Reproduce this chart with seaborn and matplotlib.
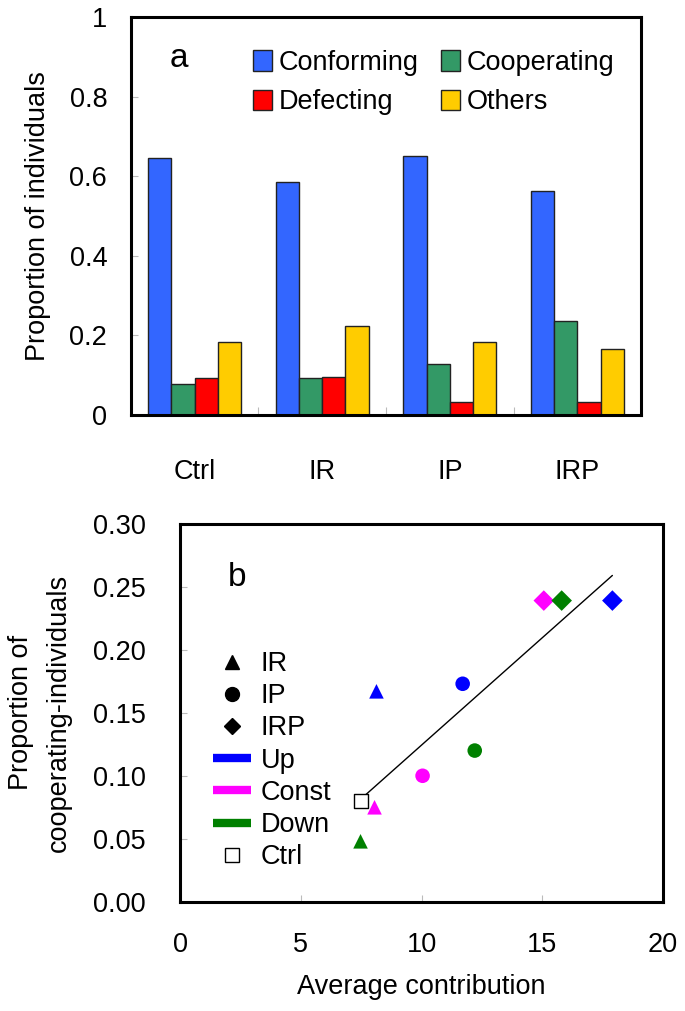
import numpy as np
import pandas as pd
import matplotlib
matplotlib.use("Agg")
import matplotlib.pyplot as plt
from matplotlib.lines import Line2D
from matplotlib.patches import Patch
import seaborn as sns

# ---------------- data ----------------
treatments = ["Ctrl", "IR", "IP", "IRP"]
types = ["Conforming", "Cooperating", "Defecting", "Others"]
conforming = [0.646, 0.585, 0.651, 0.563]
cooperating = [0.078, 0.093, 0.128, 0.236]
defecting = [0.093, 0.095, 0.033, 0.033]
others = [0.183, 0.224, 0.183, 0.166]

b_treat = ["IR", "IP", "IRP", "IR", "IP", "IRP", "IR", "IP", "IRP"]
b_dir = ["Up", "Up", "Up", "Const", "Const", "Const", "Down", "Down", "Down"]
b_contrib = [8.13, 11.7, 17.9, 8.05, 10.04, 15.06, 7.47, 12.2, 15.8]
b_coop = [0.167, 0.173, 0.239, 0.075, 0.100, 0.239, 0.048, 0.120, 0.239]
ctrl_contrib = [7.51]
ctrl_coop = [0.080]

bar_colors = ["#3366FF", "#339966", "#FF0000", "#FFCC00"]
dir_colors = {"Up": "#0000FF", "Const": "#FF00FF", "Down": "#008000"}
markers = {"IR": "^", "IP": "o", "IRP": "D"}

sns.set_style("white")
plt.rcParams["font.family"] = ["Liberation Sans", "DejaVu Sans"]
plt.rcParams["text.color"] = "black"
plt.rcParams["axes.labelcolor"] = "black"
plt.rcParams["xtick.labelcolor"] = "black"
plt.rcParams["ytick.labelcolor"] = "black"
FS = 19.5

fig = plt.figure(figsize=(6.85, 10.11), dpi=100)

# ---------------- panel a ----------------
ax1 = fig.add_axes([0.191, 0.5895, 0.745, 0.3935])
dfa = pd.DataFrame({
    "treatment": np.repeat(treatments, 4),
    "type": types * 4,
    "value": [v for tpl in zip(conforming, cooperating, defecting, others) for v in tpl],
})
sns.barplot(data=dfa, x="treatment", y="value", hue="type", order=treatments,
            hue_order=types, palette=bar_colors, width=0.73, dodge=True,
            edgecolor="#222222", linewidth=1.0, saturation=1, ax=ax1, legend=False)
ax1.set_xlim(-0.5, 3.5)
ax1.set_ylim(0, 1)
ax1.set_yticks([0, 0.2, 0.4, 0.6, 0.8, 1.0])
ax1.set_yticklabels(["0", "0.2", "0.4", "0.6", "0.8", "1"])
ax1.set_xlabel("")
ax1.set_ylabel("Proportion of individuals", fontsize=FS, labelpad=13)
ax1.tick_params(axis="y", direction="in", length=5, width=0.8, color="#bbbbbb",
                labelsize=FS, pad=17, left=True)
ax1.tick_params(axis="x", which="major", length=0, labelsize=FS, pad=32)
ax1.set_xticks([0.5, 1.5, 2.5], minor=True)
ax1.tick_params(axis="x", which="minor", direction="in", length=6, width=0.8,
                color="#bbbbbb", bottom=True)
for s in ax1.spines.values():
    s.set_linewidth(2.2)
    s.set_color("black")
ax1.text(0.095, 0.897, "a", transform=ax1.transAxes, fontsize=24,
         ha="center", va="center")
h1 = [Patch(facecolor=c, edgecolor="#222222", linewidth=1.0) for c in bar_colors]
order = [0, 2, 1, 3]
leg1 = ax1.legend([h1[i] for i in order], [types[i] for i in order], ncol=2,
                  loc="upper left", bbox_to_anchor=(0.218, 0.945),
                  frameon=False, fontsize=FS, handlelength=0.7, handleheight=0.8,
                  handletextpad=0.25, columnspacing=0.83, labelspacing=0.5,
                  borderaxespad=0.0)

# ---------------- panel b ----------------
ax2 = fig.add_axes([0.263, 0.108, 0.705, 0.374])
dfb = pd.DataFrame({"treatment": b_treat, "direction": b_dir,
                    "contrib": b_contrib, "coop": b_coop})
dfall = pd.concat([dfb, pd.DataFrame({"treatment": ["Ctrl"], "direction": ["Ctrl"],
                                      "contrib": ctrl_contrib, "coop": ctrl_coop})])
sns.regplot(data=dfall, x="contrib", y="coop", scatter=False, ci=None, truncate=True,
            line_kws=dict(color="black", linewidth=1.0), ax=ax2)
sns.scatterplot(data=dfb, x="contrib", y="coop", hue="direction", style="treatment",
                palette=dir_colors, markers=markers, s=110, linewidth=0,
                ax=ax2, legend=False, zorder=3)
sns.scatterplot(x=ctrl_contrib, y=ctrl_coop, marker="s", s=100, facecolor="white",
                edgecolor="black", linewidth=1.0, ax=ax2, legend=False, zorder=4)
ax2.set_xlim(0, 20)
ax2.set_ylim(0, 0.30)
ax2.set_xticks([0, 5, 10, 15, 20])
ax2.set_yticks(np.arange(0, 0.31, 0.05))
ax2.set_yticklabels([f"{v:.2f}" for v in np.arange(0, 0.31, 0.05)])
ax2.set_xlabel("Average contribution", fontsize=FS, labelpad=11)
ax2.set_ylabel("Proportion of\ncooperating-individuals", fontsize=FS, labelpad=15,
               linespacing=1.6)
ax2.tick_params(axis="y", direction="in", length=5, width=0.8, color="#bbbbbb",
                labelsize=FS, pad=25, left=True)
ax2.tick_params(axis="x", direction="in", length=5, width=0.8, color="#bbbbbb",
                labelsize=FS, pad=22, bottom=True)
for s in ax2.spines.values():
    s.set_linewidth(2.2)
    s.set_color("black")
ax2.text(0.117, 0.857, "b", transform=ax2.transAxes, fontsize=24,
         ha="center", va="center")
h2 = [
    Line2D([], [], linestyle="none", marker="^", color="black", markersize=10),
    Line2D([], [], linestyle="none", marker="o", color="black", markersize=10),
    Line2D([], [], linestyle="none", marker="D", color="black", markersize=8),
    Line2D([], [], color=dir_colors["Up"], linewidth=6, solid_capstyle="butt"),
    Line2D([], [], color=dir_colors["Const"], linewidth=6, solid_capstyle="butt"),
    Line2D([], [], color=dir_colors["Down"], linewidth=6, solid_capstyle="butt"),
    Line2D([], [], linestyle="none", marker="s", markerfacecolor="white",
           markeredgecolor="black", markersize=10, markeredgewidth=1.0),
]
ax2.legend(h2, ["IR", "IP", "IRP", "Up", "Const", "Down", "Ctrl"], loc="upper left",
           bbox_to_anchor=(0.045, 0.692), frameon=False, fontsize=FS,
           handlelength=1.4, handletextpad=0.37, labelspacing=0.23, borderaxespad=0)

fig.savefig("out.png", dpi=100)
